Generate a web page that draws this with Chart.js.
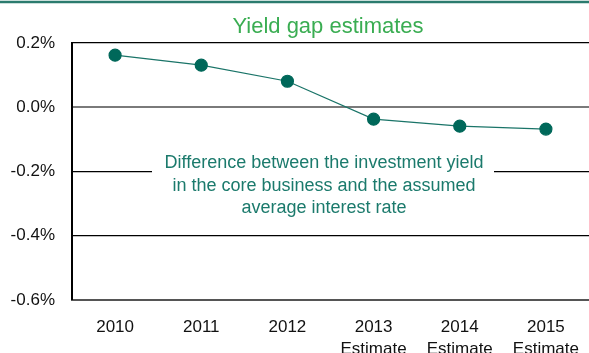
<!DOCTYPE html>
<html>
<head>
<meta charset="utf-8">
<script src="https://cdn.jsdelivr.net/npm/chart.js@4/dist/chart.umd.min.js"></script>
<style>
  html, body { margin: 0; padding: 0; background: #fff; }
  #wrap { width: 589px; height: 353px; position: relative; }
</style>
</head>
<body>
<div id="wrap"><canvas id="c"></canvas></div>
<script>
// Yield gap by year, in percent
const years = [['2010'], ['2011'], ['2012'], ['2013', 'Estimate'], ['2014', 'Estimate'], ['2015', 'Estimate']];
const yieldGap = [0.162, 0.131, 0.081, -0.037, -0.059, -0.068];
const yTicks = [-0.6, -0.4, -0.2, 0.0, 0.2];

const titleText = 'Yield gap estimates';
const noteLines = [
  'Difference between the investment yield',
  'in the core business and the assumed',
  'average interest rate'
];

const FONT = "'Liberation Sans', Arial, Helvetica, sans-serif";
const TEAL = '#00685a';

const decorations = {
  id: 'decorations',
  beforeDatasetsDraw(chart) {
    const { ctx, scales } = chart;
    const y = scales.y.getPixelForValue(-0.2);
    // white panel behind the note, interrupting the gridline
    ctx.save();
    ctx.fillStyle = '#fff';
    ctx.fillRect(152, y - 22, 342, 68);
    ctx.fillStyle = '#1b7a6c';
    ctx.font = '18px ' + FONT;
    ctx.textAlign = 'center';
    ctx.textBaseline = 'alphabetic';
    const cx = 324;
    ctx.fillText(noteLines[0], cx, y - 3.5);
    ctx.fillText(noteLines[1], cx, y + 19.5);
    ctx.fillText(noteLines[2], cx, y + 41.5);
    ctx.restore();
  },
  afterDraw(chart) {
    const { ctx, width } = chart;
    ctx.save();
    // rule across the top
    ctx.strokeStyle = '#2b7b6e';
    ctx.lineWidth = 2.5;
    ctx.beginPath();
    ctx.moveTo(0, 2);
    ctx.lineTo(width, 2);
    ctx.stroke();
    // title
    ctx.fillStyle = '#3aad52';
    ctx.font = '22px ' + FONT;
    ctx.textAlign = 'center';
    ctx.textBaseline = 'alphabetic';
    ctx.fillText(titleText, 328, 33);
    ctx.restore();
  }
};

new Chart(document.getElementById('c'), {
  type: 'line',
  data: {
    labels: years,
    datasets: [{
      data: yieldGap,
      borderColor: '#1a7468',
      borderWidth: 1.2,
      pointBackgroundColor: TEAL,
      pointBorderColor: TEAL,
      pointRadius: 6,
      pointHoverRadius: 6,
      tension: 0
    }]
  },
  options: {
    responsive: true,
    maintainAspectRatio: false,
    animation: false,
    devicePixelRatio: 1,
    layout: { autoPadding: false, padding: { top: 43, left: 0, right: 0, bottom: 0 } },
    plugins: {
      legend: { display: false },
      tooltip: { enabled: false },
      title: { display: false }
    },
    scales: {
      x: {
        offset: true,
        grid: { display: false, drawTicks: false },
        border: { display: true, color: '#555', width: 2 },
        ticks: {
          color: '#111',
          font: { family: FONT, size: 17, lineHeight: 1.25 },
          padding: 17,
          maxRotation: 0,
          autoSkip: false
        },
        afterFit(scale) {
          scale.height = 53;
          scale.paddingLeft = 0;
          scale.paddingRight = 0;
        }
      },
      y: {
        min: -0.6,
        max: 0.2,
        afterBuildTicks(scale) { scale.ticks = yTicks.map(v => ({ value: v })); },
        grid: {
          drawTicks: false,
          color: ctx => Math.abs(ctx.tick.value) < 1e-9 ? '#7a7a7a' : '#000',
          lineWidth: ctx => {
            const v = ctx.tick.value;
            if (Math.abs(v) < 1e-9) return 2;
            if (Math.abs(v + 0.6) < 1e-9) return 0;
            return 1.2;
          }
        },
        border: { display: true, color: '#000', width: 2 },
        ticks: {
          color: '#111',
          font: { family: FONT, size: 17 },
          padding: 17,
          callback: v => v.toFixed(1) + '%'
        },
        afterFit(scale) {
          scale.width = 72;
          scale.paddingTop = 0;
          scale.paddingBottom = 0;
        }
      }
    }
  },
  plugins: [decorations]
});
</script>
</body>
</html>
